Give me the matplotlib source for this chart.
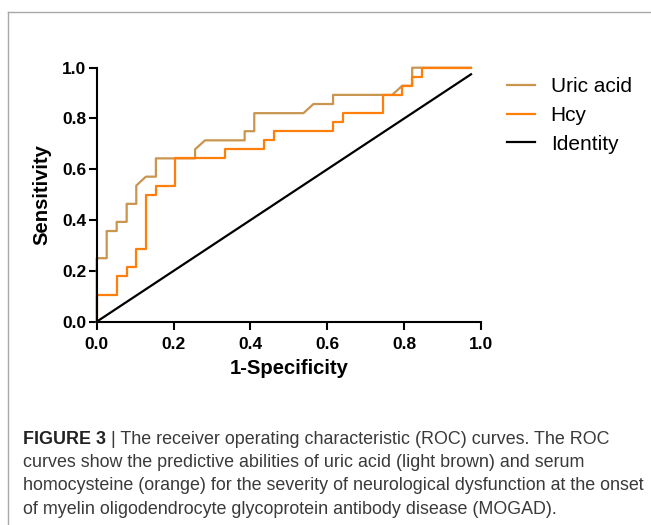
import matplotlib
matplotlib.use('Agg')
import matplotlib.pyplot as plt
from matplotlib.lines import Line2D

plt.rcParams['font.family'] = ['Liberation Sans', 'DejaVu Sans']

# ROC curve vertices
uric_x = [0, 0, 0.026, 0.026, 0.052, 0.052, 0.078, 0.078, 0.103, 0.103, 0.128, 0.154, 0.154,
          0.256, 0.256, 0.282, 0.385, 0.385, 0.41, 0.41, 0.538, 0.564, 0.615, 0.615,
          0.769, 0.795, 0.821, 0.821, 0.974]
uric_y = [0, 0.25, 0.25, 0.357, 0.357, 0.393, 0.393, 0.464, 0.464, 0.536, 0.571, 0.571, 0.643,
          0.643, 0.679, 0.714, 0.714, 0.75, 0.75, 0.821, 0.821, 0.857, 0.857, 0.893,
          0.893, 0.929, 0.929, 1.0, 1.0]

hcy_x = [0, 0, 0.052, 0.052, 0.078, 0.078, 0.103, 0.103, 0.128, 0.128, 0.154, 0.154, 0.205, 0.205,
         0.333, 0.333, 0.436, 0.436, 0.462, 0.462, 0.615, 0.615, 0.641, 0.641, 0.744, 0.744,
         0.795, 0.795, 0.821, 0.821, 0.846, 0.846, 0.974]
hcy_y = [0, 0.107, 0.107, 0.179, 0.179, 0.214, 0.214, 0.286, 0.286, 0.5, 0.5, 0.536, 0.536, 0.643,
         0.643, 0.679, 0.679, 0.714, 0.714, 0.75, 0.75, 0.786, 0.786, 0.821, 0.821, 0.893,
         0.893, 0.929, 0.929, 0.964, 0.964, 1.0, 1.0]

ident_x = [0, 0.974]
ident_y = [0, 0.974]

labels = ['Uric acid', 'Hcy', 'Identity']
colors = ['#C9954F', '#FF7F0A', '#000000']
ticks = [0.0, 0.2, 0.4, 0.6, 0.8, 1.0]

caption = [
    'The receiver operating characteristic (ROC) curves. The ROC',
    'curves show the predictive abilities of uric acid (light brown) and serum',
    'homocysteine (orange) for the severity of neurological dysfunction at the onset',
    'of myelin oligodendrocyte glycoprotein antibody disease (MOGAD).',
]

W, H = 651, 525
fig = plt.figure(figsize=(W / 100, H / 100), dpi=100)

def fx(px):
    return px / W

def fy(py):
    return 1 - py / H

ax = fig.add_axes([fx(96.7), fy(321.7), fx(481) - fx(96.7), fy(67.7) - fy(321.7)])

ax.plot(uric_x, uric_y, color=colors[0], lw=1.6, label=labels[0], clip_on=False)
ax.plot(hcy_x, hcy_y, color=colors[1], lw=1.6, label=labels[1], clip_on=False)
ax.plot(ident_x, ident_y, color=colors[2], lw=1.6, label=labels[2], clip_on=False)

ax.set_xlim(0, 1)
ax.set_ylim(0, 1)
ax.set_xticks(ticks)
ax.set_yticks(ticks)
ax.set_xticklabels(['%.1f' % t for t in ticks])
ax.set_yticklabels(['%.1f' % t for t in ticks])
ax.spines['top'].set_visible(False)
ax.spines['right'].set_visible(False)
for s in ['left', 'bottom']:
    ax.spines[s].set_linewidth(1.5)
ax.tick_params(direction='out', length=5.8, width=1.5, labelsize=12.5)
ax.tick_params(axis='x', pad=5)
ax.tick_params(axis='y', pad=1.5)
for lab in ax.get_xticklabels() + ax.get_yticklabels():
    lab.set_fontweight('bold')

ax.set_xlabel('1-Specificity', fontsize=14.6, fontweight='bold', labelpad=5)
ax.set_ylabel('Sensitivity', fontsize=14.6, fontweight='bold', labelpad=8)

fig.legend(loc='upper left', bbox_to_anchor=(fx(507), fy(77)), frameon=False,
           fontsize=15, handlelength=1.35, handletextpad=0.75, labelspacing=0.47,
           borderpad=0, borderaxespad=0)

# gray panel border (top and left)
fig.add_artist(Line2D([fx(7.7), 1], [fy(12.3), fy(12.3)], color='#a8a8a8', lw=1))
fig.add_artist(Line2D([fx(7.7), fx(7.7)], [fy(12.3), 0], color='#a8a8a8', lw=1))

# caption
base = [443.5, 467, 490.5, 513.5]
t0 = fig.text(fx(23), fy(base[0]), 'FIGURE 3', fontsize=12.9, fontweight='bold',
              color='#222222', va='baseline')
ax.annotate(' | ' + caption[0], xy=(1, 0), xycoords=t0, va='bottom', ha='left',
            fontsize=12.9, color='#3a3a3a', annotation_clip=False)
for i in range(1, 4):
    fig.text(fx(23), fy(base[i]), caption[i], fontsize=12.9, color='#3a3a3a', va='baseline')

fig.savefig('out.png', dpi=100)
